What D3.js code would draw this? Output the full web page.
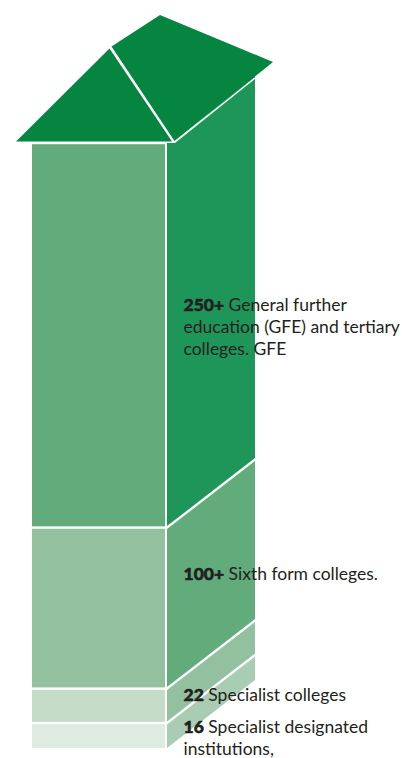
<!DOCTYPE html>
<html><head><meta charset="utf-8">
<script src="https://cdn.jsdelivr.net/npm/d3@7"></script>
<style>
html,body{margin:0;padding:0;background:#fff;}
svg{display:block;}
text{font-family:Lato,"Open Sans",sans-serif;fill:#231f20;font-size:17.5px;}
.n{font-weight:900;stroke:#231f20;stroke-width:0.55px;}
</style></head><body>
<svg id="c" width="402" height="758"></svg>
<script>
// Segment names, bottom to top
const categories = ["Specialist designated","Specialist colleges","Sixth form colleges","General further education"];
// Heights (printed counts are 16, 22, 100+, 250+)
const values = [16, 22, 103, 246];
const frontColors = ["#deebe1","#c4dcc8","#93c09f","#62ab7b"];
const sideColors  = ["#a9cdb2","#93c09f","#62ab7b","#1f9659"];
const roofColor = "#05853f";
// Label lines: [y, bold part, regular part]
const labels = [
  [311,"250+"," General further"],
  [333,"","education (GFE) and tertiary"],
  [355,"","colleges. GFE"],
  [580,"100+"," Sixth form colleges."],
  [701,"22"," Specialist colleges"],
  [733,"16"," Specialist designated"],
  [755,"","institutions,"]
];

const svg = d3.select("#c");
const total = d3.sum(values);
const y = d3.scaleLinear().domain([0,total]).range([748,143]);
const frontL=32, frontR=165, sideL=167, sideR=255, rise=68;
const cum = d3.cumsum(values);
const line = d3.line();

values.forEach((v,i)=>{
  const y0=y(i?cum[i-1]:0), y1=y(cum[i]);
  const gapB=i?1.2:0, gapT=1.2;
  svg.append("rect").attr("x",frontL).attr("width",frontR-frontL)
    .attr("y",y1+gapT).attr("height",y0-y1-gapT-gapB).attr("fill",frontColors[i]);
  const top = i===3
    ? [[sideL,y1],[174,y1],[sideR,y1-rise]]
    : [[sideL,y1+1.5],[sideR,y1-rise+1.5]];
  svg.append("path")
    .attr("d",line([[sideL,y0-(i?1.5:0)],...top,[sideR,y0-rise-(i?1.5:0)]])+"Z")
    .attr("fill",sideColors[i]);
});

// Roof
const roofLeft=[[16,141.5],[109.5,48.5],[172,141.5]];
const roofRight=[[111.5,46.5],[160,15],[273,62],[174.5,141]];
[roofLeft,roofRight].forEach(p=>svg.append("path").attr("d",line(p)+"Z").attr("fill",roofColor));
// white edge under the right roof slope
svg.append("path").attr("d",line([[174.5,142.5],[255,78]])).attr("stroke","#fff").attr("stroke-width",1.6).attr("fill","none");

labels.forEach(([yy,b,r])=>{
  const t=svg.append("text").attr("x",183.5).attr("y",yy);
  if(b) t.append("tspan").attr("class","n").text(b);
  t.append("tspan").text(r);
});
</script></body></html>
